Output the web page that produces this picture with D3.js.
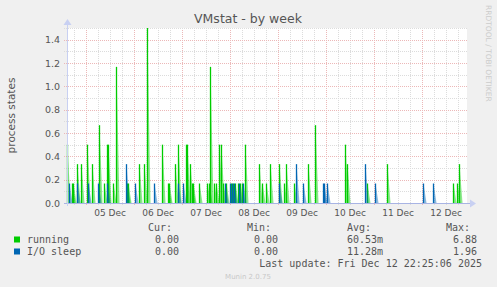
<!DOCTYPE html>
<html><head><meta charset="utf-8">
<script src="https://cdn.jsdelivr.net/npm/d3@7"></script>
<style>
html,body{margin:0;padding:0;background:#f0f0f0;}
svg{display:block;}
</style></head>
<body>
<svg id="chart" width="497" height="287"></svg>
<script>
// ---------- data ----------
const chartTitle = "VMstat - by week";
const yAxisLabel = "process states";
const credit = "RRDTOOL / TOBI OETIKER";
const footer = "Munin 2.0.75";
const lastUpdateText = "Last update: Fri Dec 12 22:25:06 2025";
const endTime = new Date(2025, 11, 12, 22, 25, 6);
const slotSeconds = 1800;          // 30 min consolidation
const slotCount = 400;             // one slot per pixel column
const yMax = 1.5;
const yTickValues = [0.0, 0.2, 0.4, 0.6, 0.8, 1.0, 1.2, 1.4];
const yMinorValues = [0.1, 0.3, 0.5, 0.7, 0.9, 1.1, 1.3, 1.5];

// spikes: slot index (30-min step from chart start) and value
const runningSlots  = [0, 5, 6, 10, 14, 20, 25, 32, 37, 40, 41, 46, 49, 60, 61, 72, 77, 80, 95, 101, 102, 108, 111, 119, 120, 123, 125, 126, 132, 140, 142, 143, 147, 149, 152, 154, 156, 159, 164, 166, 168, 171, 173, 175, 178, 192, 195, 199, 203, 212, 217, 219, 227, 241, 248, 278, 280, 300, 320, 386, 390, 392];
const runningValues = [0.5, 0.167, 0.167, 0.333, 0.333, 0.5, 0.333, 0.667, 0.167, 0.5, 0.5, 0.167, 1.167, 0.167, 0.167, 0.333, 0.333, 1.5, 0.5, 0.167, 0.167, 0.333, 0.5, 0.5, 0.5, 0.333, 0.167, 0.167, 0.167, 0.167, 0.167, 1.167, 0.167, 0.167, 0.5, 0.5, 0.167, 0.167, 0.167, 0.167, 0.167, 0.167, 0.167, 0.167, 0.5, 0.333, 0.167, 0.167, 0.333, 0.333, 0.167, 0.333, 0.167, 0.333, 0.667, 0.5, 0.333, 0.167, 0.333, 0.167, 0.167, 0.333];
const sleepSlots  = [2, 10, 21, 31, 40, 59, 68, 87, 111, 116, 158, 163, 165, 167, 172, 176, 212, 229, 236, 256, 257, 260, 298, 308, 356, 366];
const sleepValues = [0.167, 0.167, 0.167, 0.167, 0.167, 0.333, 0.167, 0.167, 0.167, 0.167, 0.167, 0.167, 0.167, 0.167, 0.167, 0.167, 0.167, 0.333, 0.167, 0.167, 0.167, 0.167, 0.333, 0.167, 0.167, 0.167];

const seriesNames  = ["running", "I/O sleep"];
const seriesColors = ["#00cc00", "#0066b3"];
const legendHeaders = ["Cur:", "Min:", "Avg:", "Max:"];
const curValues = ["0.00", "0.00"];
const minValues = ["0.00", "0.00"];
const avgValues = ["60.53m", "11.28m"];
const maxValues = ["6.88", "1.96"];

// ---------- layout ----------
const plot = {left: 67, right: 467, top: 28, bottom: 203};
const startTime = new Date(endTime.getTime() - slotCount * slotSeconds * 1000);
const slotTime = s => new Date(startTime.getTime() + s * slotSeconds * 1000);

const x = d3.scaleTime().domain([startTime, endTime]).range([plot.left, plot.right]);
const y = d3.scaleLinear().domain([0, yMax]).range([plot.bottom, plot.top]);
const px = v => Math.round(v) + 0.5;

const svg = d3.select("#chart");
svg.append("rect").attr("width", 497).attr("height", 287).attr("fill", "#f0f0f0");
svg.append("rect").attr("x", plot.left).attr("y", plot.top)
  .attr("width", plot.right - plot.left).attr("height", plot.bottom - plot.top).attr("fill", "#ffffff");

const sans = "'DejaVu Sans', sans-serif";
const mono = "'DejaVu Sans Mono', monospace";
const majorColor = "#ecb8b8";
const minorColor = "#dcdcdc";

// grid
const grid = svg.append("g");
const sixHours = d3.timeHour.every(6).range(startTime, endTime);
sixHours.forEach(t => {
  const major = t.getHours() === 0;
  grid.append("line")
    .attr("x1", px(x(t))).attr("x2", px(x(t)))
    .attr("y1", plot.top).attr("y2", plot.bottom + 3)
    .attr("stroke", major ? majorColor : minorColor)
    .attr("stroke-width", 1).attr("stroke-dasharray", "1,1");
});
yMinorValues.forEach(v => {
  grid.append("line")
    .attr("x1", plot.left - 3).attr("x2", plot.right + 1)
    .attr("y1", px(y(v))).attr("y2", px(y(v)))
    .attr("stroke", minorColor).attr("stroke-dasharray", "1,1");
});
yTickValues.filter(v => v > 0).forEach(v => {
  grid.append("line")
    .attr("x1", plot.left - 3).attr("x2", plot.right + 1)
    .attr("y1", px(y(v))).attr("y2", px(y(v)))
    .attr("stroke", majorColor).attr("stroke-dasharray", "1,1");
});

// series
const tailSlots = 3.5;
function drawSeries(slots, values, color) {
  const g = svg.append("g");
  const spikes = slots.map((s, i) => ({s, v: values[i]}));
  spikes.forEach(d => {
    const x0 = px(x(slotTime(d.s)));
    const x1 = x(slotTime(d.s + tailSlots));
    g.append("path")
      .attr("d", d3.line()([[x0, y(0)], [x0, y(d.v)], [x1, y(0)]]) + "Z")
      .attr("fill", color).attr("fill-opacity", 0.45).attr("stroke", "none");
  });
  spikes.forEach(d => {
    const x0 = px(x(slotTime(d.s)));
    g.append("line")
      .attr("x1", x0).attr("x2", x0)
      .attr("y1", y(0)).attr("y2", y(d.v))
      .attr("stroke", color).attr("stroke-width", 1.3);
  });
}
drawSeries(runningSlots, runningValues, seriesColors[0]);
drawSeries(sleepSlots, sleepValues, seriesColors[1]);

// axes
const axisColor = "#a8b4e4";
svg.append("line").attr("x1", plot.left - 3).attr("x2", plot.right + 4)
  .attr("y1", px(y(0))).attr("y2", px(y(0))).attr("stroke", axisColor);
svg.append("line").attr("x1", px(plot.left)).attr("x2", px(plot.left))
  .attr("y1", plot.bottom + 3).attr("y2", plot.top - 5).attr("stroke", "#c8d0f2");
svg.append("path")
  .attr("d", d3.line()([[plot.right + 3, px(y(0)) - 4], [plot.right + 9, px(y(0))], [plot.right + 3, px(y(0)) + 4]]) + "Z")
  .attr("fill", "#c8d0f2");
svg.append("path")
  .attr("d", d3.line()([[px(plot.left) - 4, plot.top - 3], [px(plot.left), plot.top - 9], [px(plot.left) + 4, plot.top - 3]]) + "Z")
  .attr("fill", "#c8d0f2");

// y tick labels
yTickValues.forEach(v => {
  svg.append("text").attr("x", 60).attr("y", y(v) + 3.5)
    .attr("text-anchor", "end").attr("font-family", sans).attr("font-size", 9.5)
    .attr("fill", "#555").text(d3.format(".1f")(v));
});

// x labels at noon of each day
const days = d3.timeDay.range(d3.timeDay.ceil(startTime), endTime);
days.forEach(d => {
  const noon = d3.timeHour.offset(d, 12);
  svg.append("text").attr("x", x(noon)).attr("y", 216)
    .attr("text-anchor", "middle").attr("font-family", sans).attr("font-size", 9)
    .attr("fill", "#555").text(d3.timeFormat("%d %b")(d));
});

// title
svg.append("text").attr("x", 248).attr("y", 23).attr("text-anchor", "middle")
  .attr("font-family", sans).attr("font-size", 12.5).attr("fill", "#555").text(chartTitle);

// y axis label
svg.append("text").attr("transform", `translate(15,${(plot.top + plot.bottom) / 2}) rotate(-90)`)
  .attr("text-anchor", "middle").attr("font-family", sans).attr("font-size", 10.5)
  .attr("fill", "#555").text(yAxisLabel);

// credit
svg.append("text").attr("transform", "translate(486,5) rotate(90)")
  .attr("font-family", sans).attr("font-size", 7.5).attr("fill", "#cccccc").text(credit);

// legend
const colRight = [172, 271, 371, 470];
const valRight = [179, 278, 383, 477];
legendHeaders.forEach((h, i) => {
  svg.append("text").attr("x", colRight[i]).attr("y", 231).attr("text-anchor", "end")
    .attr("font-family", mono).attr("font-size", 10).attr("fill", "#555").text(h);
});
const rows = [
  [curValues[0], minValues[0], avgValues[0], maxValues[0]],
  [curValues[1], minValues[1], avgValues[1], maxValues[1]]
];
seriesNames.forEach((name, r) => {
  const by = 243 + r * 12;
  svg.append("rect").attr("x", 14).attr("y", by - 6.5).attr("width", 6).attr("height", 6)
    .attr("fill", seriesColors[r]);
  svg.append("text").attr("x", 27).attr("y", by).attr("font-family", mono).attr("font-size", 10)
    .attr("fill", "#555").text(name);
  rows[r].forEach((v, i) => {
    svg.append("text").attr("x", valRight[i]).attr("y", by).attr("text-anchor", "end")
      .attr("font-family", mono).attr("font-size", 10).attr("fill", "#555").text(v);
  });
});
svg.append("text").attr("x", 482).attr("y", 267).attr("text-anchor", "end")
  .attr("font-family", mono).attr("font-size", 10).attr("fill", "#555").text(lastUpdateText);
svg.append("text").attr("x", 248).attr("y", 279).attr("text-anchor", "middle")
  .attr("font-family", sans).attr("font-size", 7).attr("fill", "#c8c8c8").text(footer);
</script>
</body></html>
